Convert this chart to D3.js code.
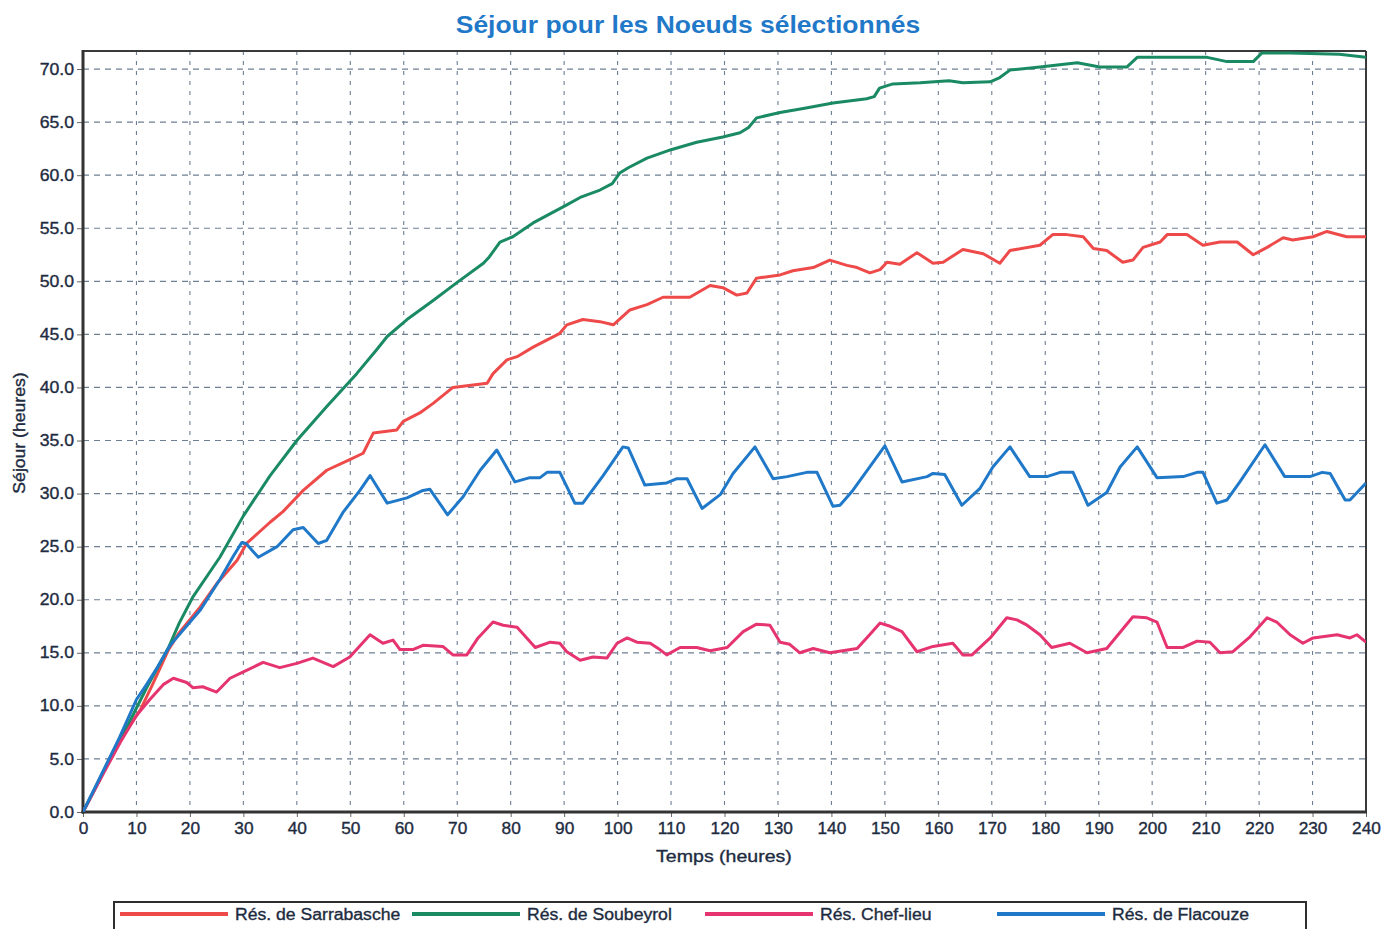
<!DOCTYPE html>
<html>
<head>
<meta charset="utf-8">
<script src="https://cdn.jsdelivr.net/npm/d3@7"></script>
<style>
  html, body { margin: 0; padding: 0; background: #ffffff; }
  svg { display: block; }
  text { font-family: "Liberation Sans", Arial, sans-serif; }
</style>
</head>
<body>
<svg id="chart" width="1385" height="929"></svg>
<script>
// Séjour (heures) par réservoir, [temps (h), séjour (h)]
const sarrabasche = [[0,0],[4,3.9],[8,7.6],[10.7,9.6],[13,12],[16,15.3],[18,16.9],[21.9,19.3],[25,21.5],[28.8,23.7],[30.6,25.3],[35,27.3],[37.4,28.3],[41.2,30.3],[45.6,32.2],[49.9,33.2],[52.4,33.8],[54.3,35.7],[58.7,36.0],[59.9,36.8],[63,37.6],[65.5,38.5],[69.2,40.0],[75.6,40.4],[76.7,41.3],[79.3,42.6],[81.2,42.9],[84.2,43.8],[89.2,45.1],[90.5,45.9],[93.5,46.4],[96.7,46.2],[99.2,45.9],[102.3,47.3],[105.5,47.8],[108.5,48.5],[113.5,48.5],[117.3,49.6],[119.7,49.4],[122.3,48.7],[124.2,48.9],[126,50.3],[130.4,50.6],[132.8,51.0],[136.6,51.3],[139.7,52.0],[142.9,51.5],[144.8,51.3],[147.2,50.8],[149.1,51.1],[150.4,51.8],[152.8,51.6],[156,52.7],[159,51.7],[160.9,51.8],[164.6,53.0],[168.4,52.6],[171.5,51.7],[173.4,52.9],[179,53.4],[181.4,54.4],[184,54.4],[187.1,54.2],[189,53.1],[191.5,52.9],[194.5,51.8],[196.4,52.0],[198.3,53.2],[201.5,53.7],[202.8,54.4],[206.5,54.4],[209.5,53.4],[212.7,53.7],[215.9,53.7],[218.9,52.5],[221.5,53.2],[224.5,54.1],[226.3,53.9],[230.1,54.2],[232.7,54.7],[236.4,54.2],[240,54.2]];

const soubeyrol = [[0,0],[4,3.9],[8,7.8],[12,11.8],[16,15.5],[18,17.8],[20.6,20.3],[25.6,24.0],[30,27.9],[35,31.7],[40,35.0],[45.6,38.2],[51.2,41.3],[55,43.6],[56.9,44.8],[60.6,46.4],[65.5,48.2],[70,49.9],[74.9,51.7],[76,52.3],[78,53.7],[80.4,54.2],[84.2,55.5],[90.5,57.2],[93,57.9],[96.7,58.6],[99,59.2],[100.4,60.2],[102,60.7],[105.5,61.6],[110,62.4],[114.8,63.1],[119.7,63.6],[122.9,64.0],[124.5,64.5],[126,65.4],[130.4,65.9],[135,66.3],[140.3,66.8],[146.6,67.2],[148,67.4],[149,68.2],[151.5,68.6],[156.6,68.7],[162,68.9],[164.6,68.7],[169.7,68.8],[171.5,69.2],[173.4,69.9],[179,70.2],[186,70.6],[190.2,70.2],[195.3,70.2],[197.2,71.1],[210.3,71.1],[214,70.7],[218.9,70.7],[220.5,71.5],[225.8,71.5],[235,71.4],[240,71.1]];

const chefLieu = [[0,0],[4,3.8],[7,6.6],[10,9.1],[12.5,10.6],[15,12.0],[16.9,12.6],[19.4,12.2],[20.6,11.7],[22.4,11.8],[25,11.3],[27.5,12.6],[30,13.2],[33.7,14.1],[36.8,13.6],[40,14.0],[43,14.5],[46.8,13.7],[49.9,14.6],[53.7,16.7],[56.1,15.9],[58,16.2],[59.3,15.3],[61.7,15.3],[63.6,15.7],[67.3,15.6],[69.2,14.8],[71.8,14.8],[73.9,16.4],[76.7,17.9],[78.6,17.6],[81.2,17.4],[84.6,15.5],[87.4,16.0],[89.2,15.9],[90.5,15.1],[93,14.3],[95.4,14.6],[98,14.5],[99.9,15.9],[101.8,16.4],[103.6,16.0],[106.1,15.9],[107.9,15.3],[109.2,14.8],[111.7,15.5],[114.8,15.5],[117.3,15.2],[120.5,15.5],[123.5,17.0],[126,17.7],[128.5,17.6],[130.4,16.0],[132.2,15.8],[134.1,15.0],[136.6,15.4],[139.7,15.0],[144.8,15.4],[146.6,16.4],[149.1,17.8],[151,17.5],[153.2,17.0],[156,15.1],[159,15.6],[162.7,15.9],[164.6,14.8],[166.3,14.8],[169.7,16.4],[172.8,18.3],[174.7,18.1],[176.6,17.6],[179,16.7],[181.2,15.5],[184.6,15.9],[187.8,15.0],[191.5,15.4],[196.4,18.4],[199,18.3],[200.9,17.9],[202.8,15.5],[205.8,15.5],[208.4,16.1],[210.8,16.0],[212.7,15.0],[215.1,15.1],[218.3,16.5],[221.5,18.3],[223.3,17.9],[225.8,16.7],[228.2,15.9],[230.1,16.4],[234.6,16.7],[237,16.4],[238.3,16.7],[240,16.0]];

const flacouze = [[0,0],[4,4.1],[6.9,7.1],[10,10.6],[12,12.1],[14,13.7],[16.3,15.7],[21.9,19.0],[25.6,21.9],[28,24.0],[29.7,25.4],[30.5,25.3],[32.8,24.0],[36.3,25.0],[39.3,26.6],[41.2,26.8],[44,25.3],[45.6,25.6],[48.6,28.2],[51.8,30.3],[53.7,31.7],[56.9,29.1],[60.6,29.6],[63.6,30.3],[64.9,30.4],[68.2,28.0],[71.1,29.7],[74.3,32.2],[77.4,34.1],[80.8,31.1],[83.6,31.5],[85.5,31.5],[86.8,32.0],[89.2,32.0],[92,29.1],[93.5,29.1],[97.3,31.7],[101,34.4],[102,34.3],[105.1,30.8],[109.2,31.0],[111.1,31.4],[113,31.4],[115.8,28.6],[119.2,29.9],[121.6,31.9],[125.7,34.4],[129.1,31.4],[131.7,31.6],[135.4,32.0],[137.3,32.0],[140.3,28.8],[141.6,28.9],[144,30.3],[150,34.5],[153.2,31.1],[157.9,31.6],[159,31.9],[161.2,31.8],[164.4,28.9],[167.8,30.5],[170.2,32.5],[173.4,34.4],[177.1,31.6],[180.3,31.6],[182.8,32.0],[185.2,32.0],[188,28.9],[191.5,30.1],[194,32.5],[197.2,34.4],[200.9,31.5],[205.8,31.6],[208.4,32.0],[209.5,32.0],[212.1,29.1],[214,29.4],[216.4,31.1],[221.1,34.6],[224.8,31.6],[229.5,31.6],[231.8,32.0],[233.3,31.9],[236.1,29.4],[237,29.4],[240,31.0]];

const seriesNames = ["Rés. de Sarrabasche", "Rés. de Soubeyrol", "Rés. Chef-lieu", "Rés. de Flacouze"];
const seriesColors = ["#ee4a4a", "#1a8a63", "#e5346f", "#1f78c8"];
const seriesData = [sarrabasche, soubeyrol, chefLieu, flacouze];

const xTicks = d3.range(0, 241, 10);
const yTicks = d3.range(0, 70.1, 5);

const chartTitle = "Séjour pour les Noeuds sélectionnés";
const xTitle = "Temps (heures)";
const yTitle = "Séjour (heures)";

// Layout
const plot = { left: 83, right: 1366, top: 51, bottom: 812 };
const svg = d3.select("#chart");
const ink = "#1d2b40";

const x = d3.scaleLinear().domain([0, 240]).range([plot.left, plot.right]);
const y = d3.scaleLinear().domain([0, 71.7]).range([plot.bottom, plot.top]);

// Widen glyphs horizontally by a factor, keeping the anchor
function widen(sel, k) {
  sel.each(function () {
    const w = this.getComputedTextLength();
    this.setAttribute("textLength", (w * k).toFixed(1));
    this.setAttribute("lengthAdjust", "spacingAndGlyphs");
  });
}
// Slightly heavier strokes for label text
function heavy(sel, c) {
  sel.attr("stroke", c).attr("stroke-width", 0.35).attr("paint-order", "stroke");
}

svg.append("rect").attr("width", 1385).attr("height", 929).attr("fill", "#ffffff");

// Grid
const grid = svg.append("g").attr("class", "grid");
grid.selectAll("line.h").data(yTicks.filter(d => d > 0)).join("line")
  .attr("class", "h")
  .attr("x1", plot.left).attr("x2", plot.right)
  .attr("y1", d => y(d)).attr("y2", d => y(d))
  .attr("stroke", "#6f7f93").attr("stroke-width", 1.2)
  .attr("stroke-dasharray", "6,5");
grid.selectAll("line.v").data(xTicks.filter(d => d > 0 && d < 240)).join("line")
  .attr("class", "v")
  .attr("x1", d => x(d)).attr("x2", d => x(d))
  .attr("y1", plot.top).attr("y2", plot.bottom)
  .attr("stroke", "#6f7f93").attr("stroke-width", 1.1)
  .attr("stroke-dasharray", "4,6");

// Axes
const xAxis = d3.axisBottom(x).tickValues(xTicks).tickSize(5).tickPadding(6)
  .tickFormat(d3.format("d"));
const yAxis = d3.axisLeft(y).tickValues(yTicks).tickSize(6).tickPadding(3)
  .tickFormat(d3.format(".1f"));

const gx = svg.append("g").attr("transform", `translate(0,${plot.bottom})`).call(xAxis);
const gy = svg.append("g").attr("transform", `translate(${plot.left},0)`).call(yAxis);
[gx, gy].forEach(g => {
  g.select(".domain").remove();
  g.selectAll(".tick line").attr("stroke", "#666");
  const tt = g.selectAll(".tick text")
    .attr("font-family", "Liberation Sans, Arial, sans-serif")
    .attr("font-size", 16)
    .attr("fill", ink);
  heavy(tt, ink);
});
widen(gx.selectAll(".tick text"), 1.08);
widen(gy.selectAll(".tick text"), 1.1);

// Frame
svg.append("line").attr("x1", plot.left).attr("x2", plot.right).attr("y1", plot.top).attr("y2", plot.top)
  .attr("stroke", "#3a3a3a").attr("stroke-width", 2);
svg.append("line").attr("x1", plot.right).attr("x2", plot.right).attr("y1", plot.top).attr("y2", plot.bottom)
  .attr("stroke", "#3a3a3a").attr("stroke-width", 2);
svg.append("line").attr("x1", plot.left).attr("x2", plot.left).attr("y1", plot.top - 1).attr("y2", plot.bottom + 1.5)
  .attr("stroke", "#333").attr("stroke-width", 3);
svg.append("line").attr("x1", plot.left - 1.5).attr("x2", plot.right + 1).attr("y1", plot.bottom).attr("y2", plot.bottom)
  .attr("stroke", "#333").attr("stroke-width", 3);

// Series
const line = d3.line().x(d => x(d[0])).y(d => y(d[1]));
svg.append("defs").append("clipPath").attr("id", "plotClip")
  .append("rect").attr("x", plot.left).attr("y", plot.top).attr("width", plot.right - plot.left).attr("height", plot.bottom - plot.top);
const gLines = svg.append("g").attr("clip-path", "url(#plotClip)");
seriesData.forEach((data, i) => {
  gLines.append("path")
    .datum(data)
    .attr("fill", "none")
    .attr("stroke", seriesColors[i])
    .attr("stroke-width", 3)
    .attr("stroke-linejoin", "round")
    .attr("d", line);
});

// Title
const title = svg.append("text")
  .attr("x", 688).attr("y", 33)
  .attr("text-anchor", "middle")
  .attr("font-size", 23).attr("font-weight", "bold")
  .attr("fill", "#1f78c8")
  .text(chartTitle);
widen(title, 1.15);

// Axis titles
const xt = svg.append("text")
  .attr("x", 724).attr("y", 862)
  .attr("text-anchor", "middle")
  .attr("font-size", 17).attr("fill", ink)
  .text(xTitle);
heavy(xt, ink);
widen(xt, 1.15);
const yt = svg.append("text")
  .attr("transform", "translate(25,433) rotate(-90)")
  .attr("text-anchor", "middle")
  .attr("font-size", 16).attr("fill", ink)
  .text(yTitle);
heavy(yt, ink);
widen(yt, 1.1);

// Legend
const legend = svg.append("g");
legend.append("rect")
  .attr("x", 114).attr("y", 902).attr("width", 1192).attr("height", 40)
  .attr("fill", "#ffffff").attr("stroke", "#2e2e2e").attr("stroke-width", 2);
const legendX = [120, 412, 705, 997];
seriesNames.forEach((name, i) => {
  legend.append("line")
    .attr("x1", legendX[i]).attr("x2", legendX[i] + 108)
    .attr("y1", 914).attr("y2", 914)
    .attr("stroke", seriesColors[i]).attr("stroke-width", 4);
  const t = legend.append("text")
    .attr("x", legendX[i] + 115).attr("y", 920)
    .attr("font-size", 16).attr("fill", ink)
    .text(name);
  heavy(t, ink);
  widen(t, 1.1);
});
</script>
</body>
</html>
